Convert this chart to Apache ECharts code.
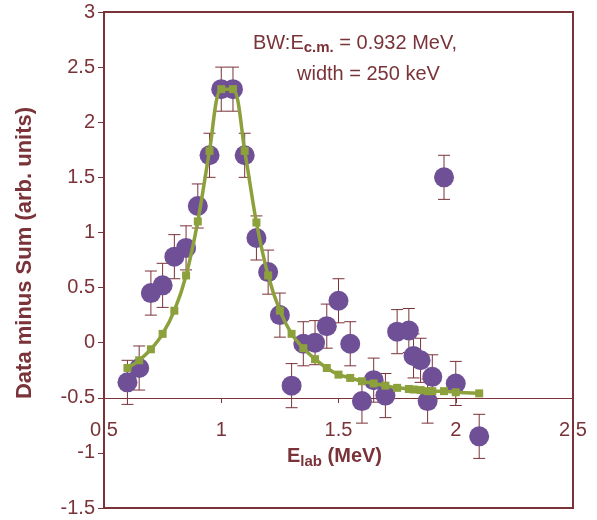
<!DOCTYPE html>
<html>
<head>
<meta charset="utf-8">
<script src="https://cdn.jsdelivr.net/npm/echarts@6/dist/echarts.min.js"></script>
<style>
  html, body { margin: 0; padding: 0; background: #fff; }
  #chart { width: 597px; height: 520px; }
</style>
</head>
<body>
<div id="chart"></div>
<script>
// lab energies (MeV), shared by data and BW fit
const energies = [0.60, 0.65, 0.70, 0.75, 0.80, 0.85, 0.90, 0.95, 1.00, 1.05,
  1.10, 1.15, 1.20, 1.25, 1.30, 1.35, 1.40, 1.45, 1.50, 1.55,
  1.60, 1.65, 1.70, 1.75, 1.80, 1.82, 1.85, 1.88, 1.90, 1.95, 2.00, 2.10]
const dataMinusSum = [-0.36, -0.23, 0.45, 0.52, 0.78, 0.86, 1.24, 1.70, 2.30, 2.30,
  1.70, 0.95, 0.64, 0.25, -0.39, -0.01, 0.00, 0.15, 0.38, -0.01,
  -0.53, -0.34, -0.48, 0.10, 0.11, -0.12, -0.16, -0.53, -0.31, 1.50, -0.37, -0.85]
const bwFit = [-0.23, -0.16, -0.06, 0.08, 0.29, 0.61, 1.10, 1.74, 2.30, 2.30,
  1.74, 1.09, 0.61, 0.29, 0.08, -0.05, -0.15, -0.23, -0.29, -0.32,
  -0.35, -0.37, -0.39, -0.41, -0.42, -0.425, -0.43, -0.44, -0.44, -0.44, -0.45, -0.46]
const errBar = 0.2

const maroon = '#7a3338'
const font = "'Liberation Sans', Arial, sans-serif"

const chart = echarts.init(document.getElementById('chart'))

chart.setOption({
  animation: false,
  textStyle: { fontFamily: font },
  grid: {
    left: 104, right: 24, top: 12, bottom: 12,
    show: true, borderColor: maroon, borderWidth: 2
  },
  xAxis: {
    type: 'value', min: 0.5, max: 2.5, interval: 0.5,
    position: 'bottom', offset: -110,
    axisLine: { onZero: false, lineStyle: { color: maroon, width: 1 } },
    axisTick: { length: 5, lineStyle: { color: maroon } },
    axisLabel: { color: maroon, fontSize: 20, margin: 22, fontFamily: font },
    splitLine: { show: false },
    name: '{e|E}{sub|lab}{e| (MeV)}',
    nameLocation: 'middle', nameGap: 43,
    nameTextStyle: {
      padding: [0, 8, 0, 0],
      rich: {
        e: { fontSize: 20, fontWeight: 'bold', color: maroon, fontFamily: font, lineHeight: 24 },
        sub: { fontSize: 15, fontWeight: 'bold', color: maroon, fontFamily: font, lineHeight: 24, padding: [9, 0, 0, 0] }
      }
    }
  },
  yAxis: {
    type: 'value', min: -1.5, max: 3, interval: 0.5,
    axisLine: { lineStyle: { color: maroon, width: 2 } },
    axisTick: { length: 6, lineStyle: { color: maroon } },
    axisLabel: { color: maroon, fontSize: 20, margin: 9, fontFamily: font },
    splitLine: { show: false },
    name: 'Data minus Sum (arb. units)',
    nameLocation: 'middle', nameGap: 68, nameRotate: 90,
    nameTextStyle: { color: maroon, fontSize: 22, fontWeight: 'bold', fontFamily: font, padding: [0, 0, 0, 14] }
  },
  graphic: [
    {
      type: 'text', left: 253, top: 33,
      style: {
        text: 'BW:E{sub|c.m.} = 0.932 MeV,',
        fill: maroon, fontSize: 20, fontFamily: font,
        rich: { sub: { fontSize: 15, fontWeight: 'bold', fill: maroon, fontFamily: font, padding: [9, 0, 0, 0] } }
      }
    },
    {
      type: 'text', left: 297, top: 64,
      style: { text: 'width = 250 keV', fill: maroon, fontSize: 20, fontFamily: font }
    }
  ],
  series: [
    {
      type: 'custom',
      data: energies.map((x, i) => [x, dataMinusSum[i], errBar]),
      z: 1,
      renderItem: (params, api) => {
        const x = api.value(0), y = api.value(1), e = api.value(2)
        const top = api.coord([x, y + e])
        const bot = api.coord([x, y - e])
        const style = { stroke: maroon, lineWidth: 1 }
        return {
          type: 'group',
          children: [
            { type: 'line', shape: { x1: top[0], y1: top[1], x2: bot[0], y2: bot[1] }, style },
            { type: 'line', shape: { x1: top[0] - 6, y1: top[1], x2: top[0] + 6, y2: top[1] }, style },
            { type: 'line', shape: { x1: bot[0] - 6, y1: bot[1], x2: bot[0] + 6, y2: bot[1] }, style }
          ]
        }
      }
    },
    {
      type: 'scatter',
      data: energies.map((x, i) => [x, dataMinusSum[i]]),
      symbol: 'circle', symbolSize: 20, z: 2,
      itemStyle: { color: '#6f5096', opacity: 1 }
    },
    {
      type: 'line',
      data: energies.map((x, i) => [x, bwFit[i]]),
      smooth: 0.3, z: 3,
      symbol: 'rect', symbolSize: 8, showSymbol: true,
      lineStyle: { color: '#8ca03c', width: 3.5 },
      itemStyle: { color: '#8ca03c' }
    }
  ]
})
</script>
</body>
</html>
